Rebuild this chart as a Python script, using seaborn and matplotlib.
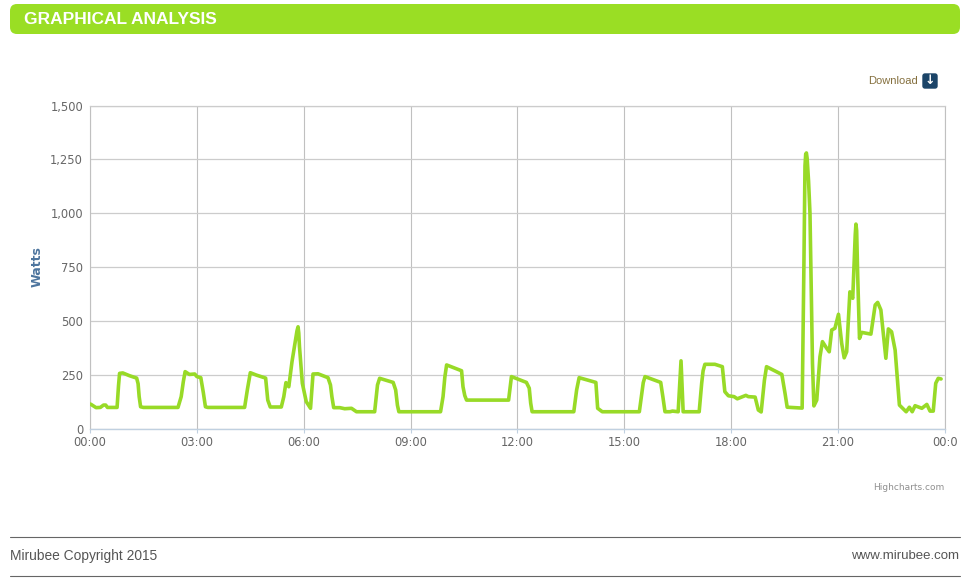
import pandas as pd
import seaborn as sns
import matplotlib.pyplot as plt
from matplotlib.patches import FancyBboxPatch

# Values
hours = [0, .03, .17, .29, .38, .44, .49, .76, .83, .92, 1.11, 1.31, 1.35, 1.42, 2.47, 2.56, 2.67, 2.79, 2.94, 3.0,
         3.11, 3.24, 4.34, 4.5, 4.67, 4.93, 4.99, 5.06, 5.37, 5.44, 5.5, 5.58, 5.67, 5.84, 5.88, 5.96, 6.07, 6.19,
         6.26, 6.4, 6.68, 6.75, 6.84, 7.01, 7.15, 7.34, 7.48, 7.99, 8.07, 8.13, 8.51, 8.58, 8.67, 9.84, 9.91, 10.01,
         10.43, 10.47, 10.57, 11.75, 11.83, 12.25, 12.33, 12.41, 13.58, 13.66, 13.73, 14.2, 14.25, 14.38, 15.42,
         15.58, 16.02, 16.14, 16.28, 16.35, 16.51, 16.59, 16.65, 17.1, 17.17, 17.26, 17.54, 17.75, 17.82, 17.92,
         18.08, 18.17, 18.41, 18.48, 18.67, 18.76, 18.84, 18.99, 19.42, 19.51, 19.57, 19.99, 20.04, 20.09, 20.13,
         20.21, 20.28, 20.32, 20.4, 20.49, 20.56, 20.68, 20.75, 20.82, 20.91, 21.01, 21.1, 21.17, 21.24, 21.33,
         21.41, 21.5, 21.55, 21.6, 21.66, 21.92, 22.04, 22.11, 22.2, 22.34, 22.41, 22.5, 22.6, 22.72, 22.91, 23.0,
         23.08, 23.16, 23.35, 23.49, 23.58, 23.67, 23.74, 23.81, 23.89]
watts = [116, 114, 99, 100, 111, 111, 100, 100, 258, 260, 247, 236, 210, 103, 100, 150, 266, 253, 255, 243,
         238, 103, 100, 261, 250, 236, 134, 102, 102, 150, 215, 196, 312, 474, 382, 212, 127, 96,
         255, 256, 238, 204, 99, 99, 94, 96, 80, 80, 204, 235, 216, 181, 80, 80, 150, 297,
         270, 196, 134, 134, 243, 216, 189, 80, 80, 181, 238, 216, 96, 80, 80,
         243, 216, 80, 80, 83, 80, 316, 80, 80, 212, 300, 300, 289, 173, 154,
         150, 140, 156, 150, 148, 88, 79, 289, 253, 165, 101, 97, 768, 1275, 1255,
         1000, 305, 107, 134, 335, 405, 374, 358, 459, 467, 532, 397, 330, 358, 636,
         606, 950, 706, 420, 448, 440, 575, 587, 552, 328, 464, 451, 366, 111, 80, 101,
         80, 108, 96, 114, 83, 83, 212, 235, 232]
# extra readings on the soft corners and peaks
corner_hours = [.8, 1.38, 1.5, 2.62, 3.18, 3.31, 4.42, 5.81, 5.86, 6.79, 8.63, 9.96, 10.52, 12.37, 15.47, 15.53,
                16.08, 17.21, 18.93, 20.07, 20.11, 20.17, 21.48, 21.52]
corner_watts = [200, 150, 100, 220, 170, 100, 185, 455, 445, 150, 110, 240, 155, 120, 140, 215,
                150, 270, 225, 1220, 1280, 1150, 900, 920]
x_ticks = [0, 3, 6, 9, 12, 15, 18, 21, 24]
x_labels = ['00:00', '03:00', '06:00', '09:00', '12:00', '15:00', '18:00', '21:00', '00:0']
y_ticks = [0, 250, 500, 750, 1000, 1250, 1500]
y_labels = ['0', '250', '500', '750', '1,000', '1,250', '1,500']

GREEN = '#9ade24'
W, H = 969, 583

sns.set_theme(style='white')
plt.rcParams['font.family'] = ['DejaVu Sans']

fig = plt.figure(figsize=(W / 100, H / 100), dpi=100, facecolor='white')

# full-figure layer in pixel coordinates for the page furniture
page = fig.add_axes([0, 0, 1, 1])
page.set_xlim(0, W)
page.set_ylim(H, 0)
page.axis('off')

page.add_patch(FancyBboxPatch((10, 4), 950, 30, boxstyle='round,pad=0,rounding_size=7',
                              mutation_aspect=1, lw=0, fc=GREEN))
page.text(24, 19.5, 'GRAPHICAL ANALYSIS', color='white', fontsize=12.5, va='center',
          family='Liberation Sans', fontweight='bold')

page.text(918, 80.5, 'Download', color='#85703f', fontsize=8, va='center', ha='right', family='Liberation Sans')
page.add_patch(FancyBboxPatch((923, 74), 14, 14, boxstyle='round,pad=0,rounding_size=2',
                              lw=1, ec='#1b4468', fc='#1b4468'))
page.text(930, 81, '↓', color='white', fontsize=9, fontweight='bold', ha='center', va='center')

page.text(944, 488, 'Highcharts.com', color='#909090', fontsize=6.5, ha='right', va='center')

page.plot([10, 960], [536.5, 536.5], color='#666666', lw=0.8)
page.plot([10, 960], [575.5, 575.5], color='#666666', lw=0.8)
page.text(10, 556, 'Mirubee Copyright 2015', color='#555555', fontsize=9.9, va='center', family='Liberation Sans')
page.text(959, 556, 'www.mirubee.com', color='#555555', fontsize=9.5, ha='right', va='center', family='Liberation Sans')

page.text(37, 267, 'Watts', color='#4d759e', fontsize=9, fontweight='bold', rotation=90, ha='center', va='center')

# the chart itself
ax = fig.add_axes([90 / W, 1 - 429 / H, (945 - 90) / W, (429 - 105.5) / H])
ax.patch.set_alpha(0)

df = pd.DataFrame({'hour': hours + corner_hours, 'watts': watts + corner_watts}).sort_values('hour')
sns.lineplot(data=df, x='hour', y='watts', color='#98da27', linewidth=2.6, sort=False, estimator=None, ax=ax, zorder=3,
             solid_joinstyle='round')

ax.set_xlim(0, 24)
ax.set_ylim(0, 1500)
ax.set_xticks(x_ticks)
ax.set_xticklabels(x_labels)
ax.set_yticks(y_ticks)
ax.set_yticklabels(y_labels)
ax.set_xlabel('')
ax.set_ylabel('')

ax.grid(True, axis='y', color='#cccccc', lw=0.9)
ax.grid(True, axis='x', color='#c0c0c0', lw=0.8)
ax.set_axisbelow(True)

for side in ['left', 'right']:
    ax.spines[side].set_color('#c0c0c0')
    ax.spines[side].set_linewidth(0.8)
ax.spines['top'].set_color('#cccccc')
ax.spines['top'].set_linewidth(0.9)
ax.spines['bottom'].set_color('#c0d0e0')
ax.spines['bottom'].set_linewidth(1)

ax.tick_params(axis='x', bottom=True, length=3, width=0.8, color='#c0d0e0', labelsize=8.3, labelcolor='#666666', pad=2)
ax.tick_params(axis='y', left=False, length=0, labelsize=8.3, labelcolor='#666666', pad=5)

fig.savefig('out.png', dpi=100)
